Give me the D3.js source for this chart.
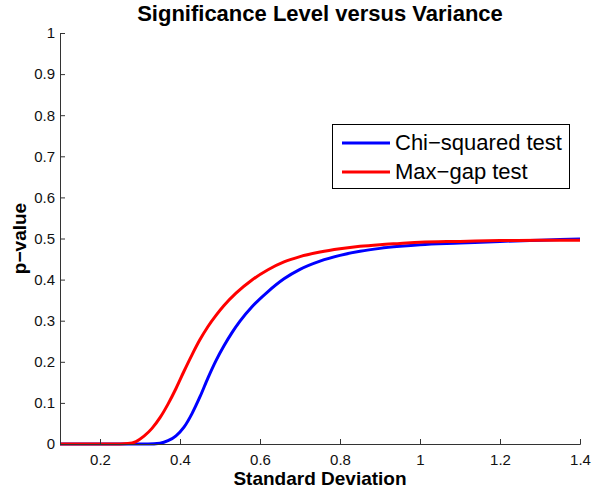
<!DOCTYPE html>
<html>
<head>
<meta charset="utf-8">
<script src="https://cdn.jsdelivr.net/npm/d3@7"></script>
<style>
body { margin: 0; background: #fff; }
text { font-family: "Liberation Sans", Arial, sans-serif; }
</style>
</head>
<body>
<script>
// standard deviation (x) and p-value readings for each test
var sdChi =   [0.10, 0.32, 0.35, 0.37, 0.39, 0.41, 0.43, 0.45, 0.47, 0.49, 0.51, 0.53, 0.55, 0.58, 0.62, 0.66, 0.70, 0.75, 0.80, 0.85, 0.90, 0.95, 1.00, 1.10, 1.20, 1.30, 1.40];
var chiSq =   [0, 0, 0.002, 0.008, 0.02, 0.041, 0.074, 0.115, 0.161, 0.203, 0.239, 0.271, 0.299, 0.334, 0.371, 0.402, 0.425, 0.445, 0.459, 0.469, 0.476, 0.481, 0.485, 0.489, 0.493, 0.496, 0.499];
var sdGap =   [0.10, 0.25, 0.27, 0.29, 0.31, 0.33, 0.35, 0.37, 0.39, 0.41, 0.43, 0.45, 0.47, 0.49, 0.51, 0.54, 0.58, 0.62, 0.66, 0.70, 0.75, 0.80, 0.85, 0.90, 0.95, 1.00, 1.10, 1.20, 1.30, 1.40];
var maxGap =  [0, 0, 0.001, 0.006, 0.019, 0.038, 0.064, 0.097, 0.135, 0.177, 0.217, 0.254, 0.286, 0.313, 0.337, 0.367, 0.399, 0.424, 0.443, 0.456, 0.467, 0.475, 0.481, 0.485, 0.488, 0.491, 0.493, 0.495, 0.496, 0.496];
var xTicks = [0.2, 0.4, 0.6, 0.8, 1, 1.2, 1.4];
var yTicks = [0, 0.1, 0.2, 0.3, 0.4, 0.5, 0.6, 0.7, 0.8, 0.9, 1];
var seriesNames = ["Chi\u2212squared test", "Max\u2212gap test"];
var seriesColors = ["#0000ff", "#ff0000"];

var w = 593, h = 492;
var mLeft = 60, mRight = 580, mTop = 33, mBottom = 444;

var svg = d3.select("body").append("svg").attr("width", w).attr("height", h);

var x = d3.scaleLinear().domain([0.1, 1.4]).range([mLeft, mRight]);
var y = d3.scaleLinear().domain([0, 1]).range([mBottom, mTop]);

var fmt = function(d) { return String(d); };

var xAxis = d3.axisBottom(x).tickValues(xTicks).tickFormat(fmt).tickSizeInner(-5).tickSizeOuter(-5).tickPadding(10);
var yAxis = d3.axisLeft(y).tickValues(yTicks).tickFormat(fmt).tickSizeInner(-5).tickSizeOuter(-5).tickPadding(5);

var line = d3.line()
    .x(function(d) { return x(d[0]); })
    .y(function(d) { return y(d[1]); })
    .curve(d3.curveMonotoneX);

[[sdChi, chiSq], [sdGap, maxGap]].forEach(function(s, i) {
    svg.append("path")
        .datum(s[0].map(function(v, j) { return [v, s[1][j]]; }))
        .attr("d", line)
        .attr("fill", "none")
        .attr("stroke", seriesColors[i])
        .attr("stroke-width", 3);
});

var gx = svg.append("g").attr("transform", "translate(0," + mBottom + ")").call(xAxis);
var gy = svg.append("g").attr("transform", "translate(" + mLeft + ",0)").call(yAxis);
[gx, gy].forEach(function(g) {
    g.selectAll("path, line").attr("stroke", "#333").attr("stroke-width", 1);
    g.selectAll("text").attr("font-size", 15).attr("fill", "#111")
        .style("font-family", "'Liberation Sans', Arial, sans-serif");
});

svg.append("text")
    .attr("x", (mLeft + mRight) / 2).attr("y", 21)
    .attr("text-anchor", "middle")
    .attr("font-size", 22).attr("font-weight", "bold")
    .text("Significance Level versus Variance");

svg.append("text")
    .attr("x", (mLeft + mRight) / 2).attr("y", 485)
    .attr("text-anchor", "middle")
    .attr("font-size", 19).attr("font-weight", "bold")
    .text("Standard Deviation");

svg.append("text")
    .attr("transform", "translate(26," + ((mTop + mBottom) / 2) + ") rotate(-90)")
    .attr("text-anchor", "middle")
    .attr("font-size", 19).attr("font-weight", "bold")
    .text("p\u2212value");

// legend
var lg = svg.append("g");
lg.append("rect")
    .attr("x", 332.5).attr("y", 124.5).attr("width", 237).attr("height", 64)
    .attr("fill", "#fff").attr("stroke", "#000").attr("stroke-width", 1);
seriesNames.forEach(function(name, i) {
    var yy = 143 + i * 29;
    lg.append("line")
        .attr("x1", 342).attr("x2", 390).attr("y1", yy).attr("y2", yy)
        .attr("stroke", seriesColors[i]).attr("stroke-width", 3);
    lg.append("text")
        .attr("x", 395).attr("y", yy + 7)
        .attr("font-size", 22)
        .text(name);
});
</script>
</body>
</html>
